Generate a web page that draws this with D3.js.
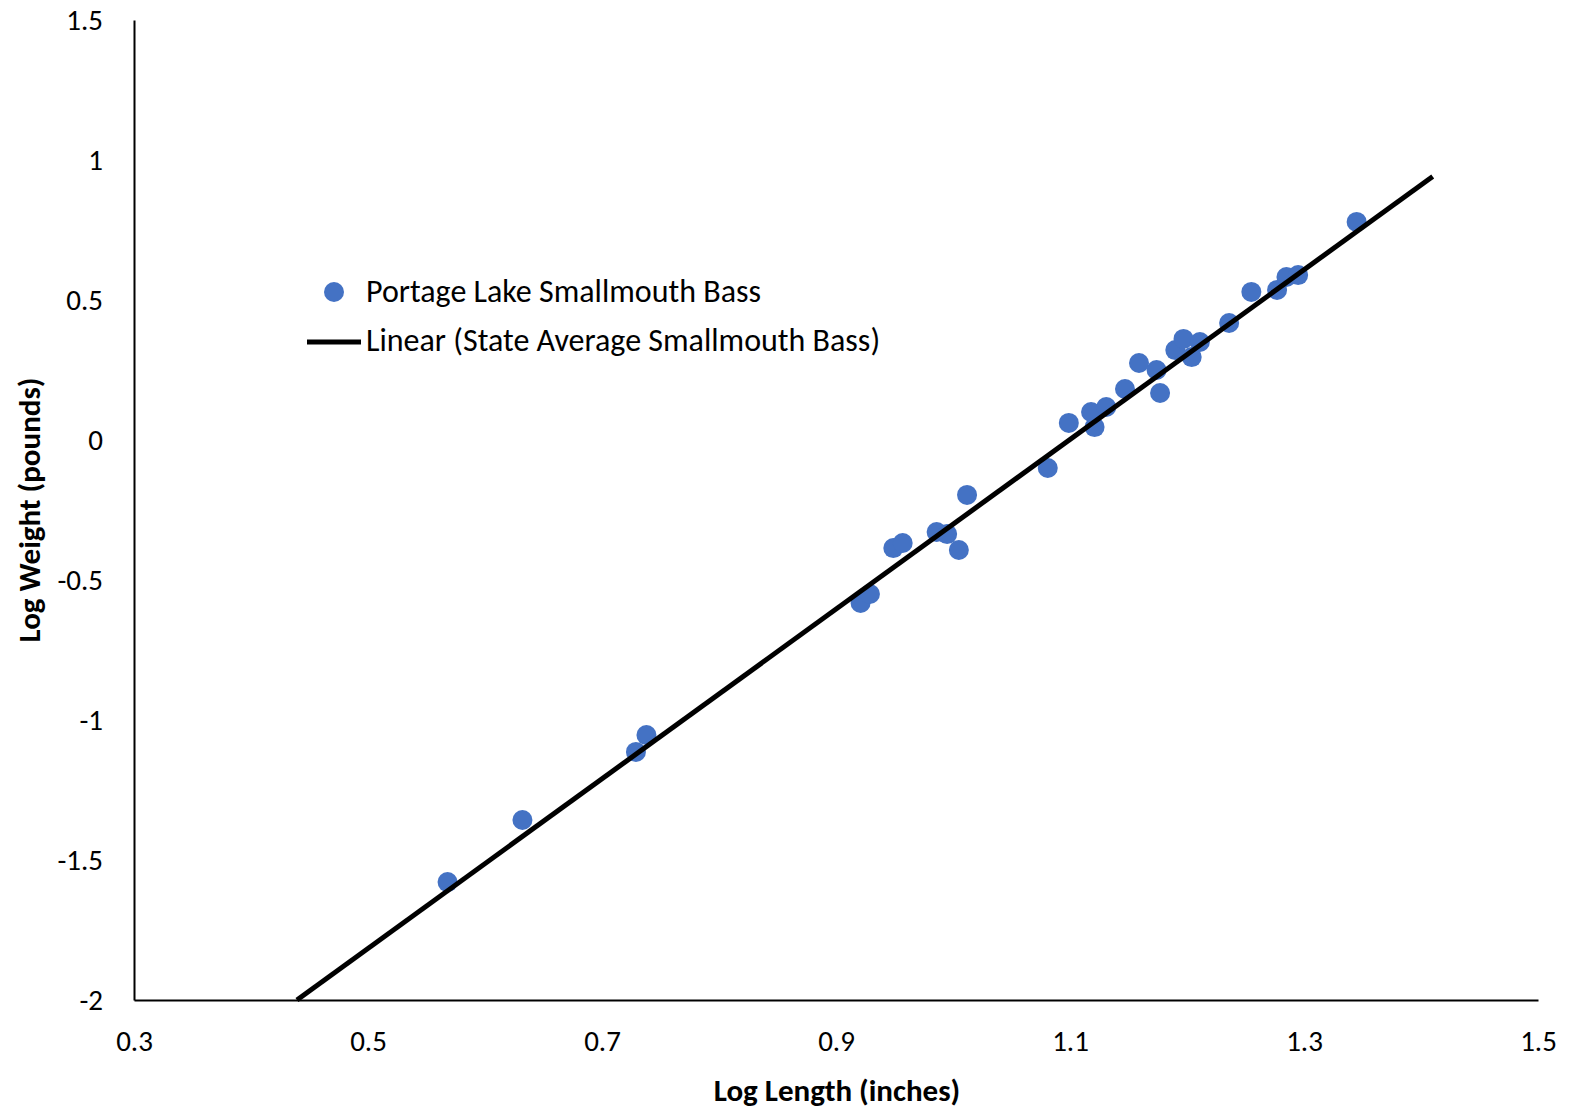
<!DOCTYPE html>
<html>
<head>
<meta charset="utf-8">
<script src="https://cdn.jsdelivr.net/npm/d3@7"></script>
<style>
  body { margin: 0; background: #fff; }
  text { font-family: Carlito, Calibri, Lato, "Open Sans", sans-serif; fill: #000; }
</style>
</head>
<body>
<div id="chart"></div>
<script>
// Portage Lake smallmouth bass (log length, log weight)
const logLength = [0.568, 0.632, 0.729, 0.738, 0.921, 0.929, 0.949, 0.957, 0.986, 0.995,
                   1.005, 1.012, 1.081, 1.099, 1.118, 1.121, 1.131, 1.147, 1.159, 1.174,
                   1.177, 1.190, 1.197, 1.204, 1.211, 1.236, 1.255, 1.277, 1.285, 1.295, 1.345];
const logWeight = [-1.579, -1.357, -1.114, -1.054, -0.582, -0.550, -0.386, -0.368, -0.329, -0.336,
                   -0.393, -0.196, -0.100, 0.061, 0.100, 0.046, 0.118, 0.182, 0.275, 0.250,
                   0.168, 0.321, 0.361, 0.296, 0.350, 0.418, 0.529, 0.536, 0.582, 0.589, 0.779];

// state average trendline: y = slope * x + intercept
const trendSlope = 3.03,
      trendIntercept = -3.331,
      trendXEnd = 1.41;

const xTicks = [0.3, 0.5, 0.7, 0.9, 1.1, 1.3, 1.5];
const yTicks = [-2, -1.5, -1, -0.5, 0, 0.5, 1, 1.5];

const width = 1569, height = 1111;
const plotLeft = 134, plotRight = 1538, plotTop = 20, plotBottom = 1000;

// Excel shows plain hyphen for negatives
const fmt = (d) => String(d);

const svg = d3.select('#chart')
    .append('svg')
      .attr('width', width)
      .attr('height', height);

const x = d3.scaleLinear().domain([0.3, 1.5]).range([plotLeft, plotRight]);
const y = d3.scaleLinear().domain([-2, 1.5]).range([plotBottom, plotTop]);

// axes (no tick marks, Excel style)
const xAxis = svg.append('g')
    .attr('transform', `translate(0, ${plotBottom})`)
    .call(d3.axisBottom(x).tickValues(xTicks).tickSize(0).tickPadding(30).tickFormat(fmt));
xAxis.select('.domain').attr('stroke', '#000').attr('stroke-width', 2);
xAxis.selectAll('text').style('font-size', '29px');

const yAxis = svg.append('g')
    .attr('transform', `translate(${plotLeft}, 0)`)
    .call(d3.axisLeft(y).tickValues(yTicks).tickSize(0).tickPadding(31).tickFormat(fmt));
yAxis.select('.domain').attr('stroke', '#000').attr('stroke-width', 2);
yAxis.selectAll('text').style('font-size', '29px');

// axis titles
svg.append('text')
    .attr('x', 837)
    .attr('y', 1101)
    .attr('text-anchor', 'middle')
    .style('font-size', '31px')
    .style('font-weight', 'bold')
    .text('Log Length (inches)');

svg.append('text')
    .attr('transform', `translate(40, 510) rotate(-90)`)
    .attr('text-anchor', 'middle')
    .style('font-size', '31px')
    .style('font-weight', 'bold')
    .text('Log Weight (pounds)');

// points
svg.selectAll('circle.pt')
    .data(logLength.map((d, i) => ({ x: d, y: logWeight[i] })))
    .enter()
    .append('circle')
      .attr('class', 'pt')
      .attr('cx', d => x(d.x))
      .attr('cy', d => y(d.y))
      .attr('r', 10)
      .style('fill', '#4472C4');

// trendline on top, clipped at the bottom of the plot
const xStart = (-2 - trendIntercept) / trendSlope;
svg.append('line')
    .attr('x1', x(xStart))
    .attr('y1', y(trendSlope * xStart + trendIntercept))
    .attr('x2', x(trendXEnd))
    .attr('y2', y(trendSlope * trendXEnd + trendIntercept))
    .attr('stroke', '#000')
    .attr('stroke-width', 5);

// legend
const legend = svg.append('g');
legend.append('circle')
    .attr('cx', 334).attr('cy', 292).attr('r', 10)
    .style('fill', '#4472C4');
legend.append('text')
    .attr('x', 366).attr('y', 302)
    .style('font-size', '32px')
    .text('Portage Lake Smallmouth Bass');
legend.append('line')
    .attr('x1', 307).attr('x2', 361)
    .attr('y1', 342).attr('y2', 342)
    .attr('stroke', '#000').attr('stroke-width', 5);
legend.append('text')
    .attr('x', 366).attr('y', 351)
    .style('font-size', '32px')
    .text('Linear (State Average Smallmouth Bass)');
</script>
</body>
</html>
